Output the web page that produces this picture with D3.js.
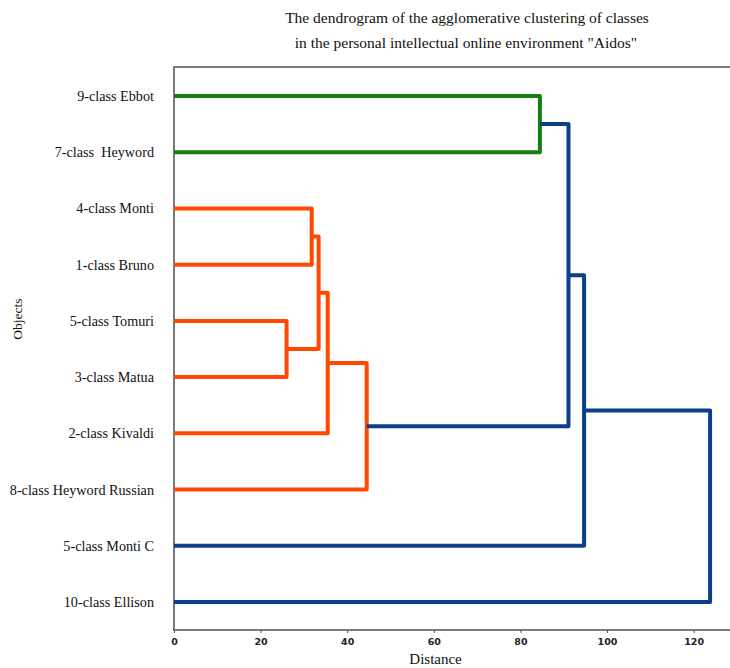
<!DOCTYPE html>
<html>
<head>
<meta charset="utf-8">
<script src="https://cdn.jsdelivr.net/npm/d3@7"></script>
<style>
  body { margin: 0; background: #fff; }
  svg { display: block; }
</style>
</head>
<body>
<div id="chart"></div>
<script>
// Dendrogram - agglomerative clustering of classes ("Aidos")

// Leaves, top to bottom
const leaves = [
    '9-class Ebbot',
    '7-class  Heyword',
    '4-class Monti',
    '1-class Bruno',
    '5-class Tomuri',
    '3-class Matua',
    '2-class Kivaldi',
    '8-class Heyword Russian',
    '5-class Monti C',
    '10-class Ellison'
];

// Merge steps: two children (leaf names or earlier merge ids) and a distance
const mergeIds   = ['m1', 'm2', 'm3', 'm4', 'm5', 'm6', 'm7', 'm8', 'm9'];
const mergeLeft  = ['5-class Tomuri', '4-class Monti', 'm2', 'm3', 'm4', '9-class Ebbot', 'm6', 'm7', 'm8'];
const mergeRight = ['3-class Matua', '1-class Bruno', 'm1', '2-class Kivaldi', '8-class Heyword Russian', '7-class  Heyword', 'm5', '5-class Monti C', '10-class Ellison'];
const mergeDist  = [26.0, 31.8, 33.4, 35.5, 44.5, 84.5, 91.1, 94.7, 123.8];

const xTicks = [0, 20, 40, 60, 80, 100, 120];

function createDendrogram() {
    const W = 730, H = 668;
    const margin = {top: 67, right: 0, bottom: 38, left: 174};
    const width = W - margin.left - margin.right;
    const height = H - margin.top - margin.bottom;

    const svg = d3.select('#chart').append('svg')
        .attr('width', W)
        .attr('height', H);

    const g = svg.append('g')
        .attr('transform', `translate(${margin.left},${margin.top})`);

    // scales
    const xScale = d3.scaleLinear()
        .domain([0, 128.4])
        .range([0, width]);

    const yScale = d3.scalePoint()
        .domain(leaves)
        .range([29, 535]);

    // cluster colours: below threshold each top cluster gets its own colour
    const threshold = 88;
    const clusterColors = ['#118011', '#ff4800'];
    const aboveColor = '#0b4087';

    // build nodes
    const nodes = {};
    leaves.forEach(l => { nodes[l] = {y: yScale(l), d: 0, leaves: [l]}; });
    mergeIds.forEach((id, i) => {
        const a = nodes[mergeLeft[i]], b = nodes[mergeRight[i]];
        nodes[id] = {
            a: a, b: b, d: mergeDist[i],
            y: (a.y + b.y) / 2,
            leaves: a.leaves.concat(b.leaves)
        };
    });

    // top clusters below the threshold, ordered top-down
    const topClusters = mergeIds
        .filter((id, i) => mergeDist[i] < threshold)
        .filter(id => !mergeIds.some((p, j) => mergeDist[j] < threshold &&
            (mergeLeft[j] === id || mergeRight[j] === id)))
        .sort((p, q) => d3.min(nodes[p].leaves, l => yScale(l)) - d3.min(nodes[q].leaves, l => yScale(l)));

    function paint(node, color) {
        node.color = color;
        if (node.a) { paint(node.a, color); paint(node.b, color); }
    }
    topClusters.forEach((id, k) => paint(nodes[id], clusterColors[k % clusterColors.length]));

    const links = mergeIds.map(id => {
        const n = nodes[id];
        return {n: n, color: n.d < threshold ? n.color : aboveColor};
    });

    // frame
    g.append('line')
        .attr('x1', 0).attr('x2', width + 2)
        .attr('y1', 0).attr('y2', 0)
        .attr('stroke', '#7a7a7a').attr('stroke-width', 2);
    g.append('line')
        .attr('x1', 0).attr('x2', 0)
        .attr('y1', -1).attr('y2', height)
        .attr('stroke', '#7a7a7a').attr('stroke-width', 2);

    // X axis
    const xAxis = g.append('g')
        .attr('transform', `translate(0,${height})`)
        .call(d3.axisBottom(xScale).tickValues(xTicks).tickSize(3).tickSizeOuter(0).tickPadding(5));
    xAxis.select('.domain').attr('stroke', '#7a7a7a').attr('stroke-width', 2)
        .attr('d', `M-1,0H${width + 2}`);
    xAxis.selectAll('.tick line').attr('stroke', '#555');
    xAxis.selectAll('.tick text')
        .style('font-family', '"DejaVu Sans", sans-serif')
        .style('font-size', '9.5px')
        .style('font-weight', 'bold')
        .attr('fill', '#222');

    // dendrogram U-links
    g.selectAll('.link')
        .data(links)
        .enter()
        .append('path')
        .attr('class', 'link')
        .attr('d', l => {
            const n = l.n;
            return `M${xScale(n.a.d)},${n.a.y}H${xScale(n.d)}V${n.b.y}H${xScale(n.b.d)}`;
        })
        .attr('fill', 'none')
        .attr('stroke', l => l.color)
        .attr('stroke-width', 4)
        .attr('stroke-linejoin', 'round');

    // leaf labels
    g.selectAll('.leaf')
        .data(leaves)
        .enter()
        .append('text')
        .attr('class', 'leaf')
        .attr('x', -20)
        .attr('y', d => yScale(d))
        .attr('dy', '0.35em')
        .attr('text-anchor', 'end')
        .style('font-family', '"Liberation Serif", serif')
        .style('font-size', '14.2px')
        .style('white-space', 'pre')
        .attr('fill', '#111')
        .text(d => d);

    // axis titles
    svg.append('text')
        .attr('x', margin.left + xScale(60.4))
        .attr('y', 664)
        .attr('text-anchor', 'middle')
        .style('font-family', '"Liberation Serif", serif')
        .style('font-size', '15px')
        .attr('fill', '#111')
        .text('Distance');

    svg.append('text')
        .attr('transform', 'rotate(-90)')
        .attr('x', -319)
        .attr('y', 22)
        .attr('text-anchor', 'middle')
        .style('font-family', '"Liberation Serif", serif')
        .style('font-size', '13.5px')
        .attr('fill', '#111')
        .text('Objects');

    // title
    const title = svg.append('text')
        .attr('text-anchor', 'middle')
        .style('font-family', '"Liberation Serif", serif')
        .style('font-size', '15.5px')
        .attr('fill', '#111');
    title.append('tspan').attr('x', 467).attr('y', 23)
        .text('The dendrogram of the agglomerative clustering of classes');
    title.append('tspan').attr('x', 466).attr('y', 48)
        .text('in the personal intellectual online environment "Aidos"');
}

createDendrogram();
</script>
</body>
</html>
